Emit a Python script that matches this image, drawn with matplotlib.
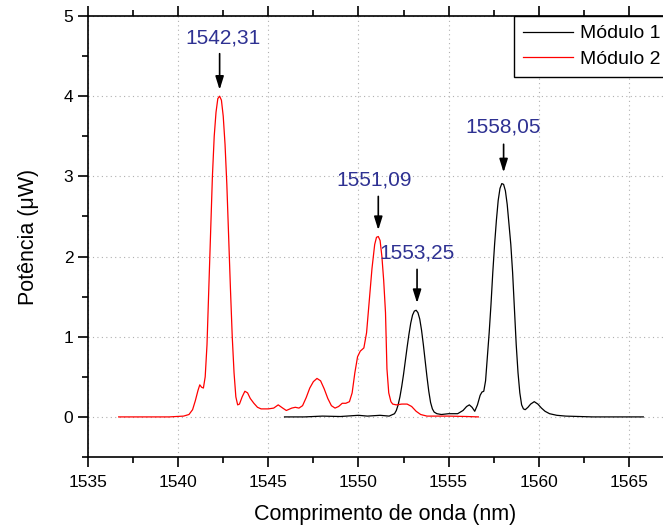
import matplotlib.pyplot as plt
from matplotlib.ticker import MultipleLocator

plt.rcParams['font.family'] = ['Liberation Sans', 'DejaVu Sans']

# Módulo 1 (black)
wl_m1 = [1545.9, 1547.0, 1548.0, 1549.0, 1550.0, 1550.5, 1551.2, 1551.7, 1552.0,
         1552.1, 1552.2, 1552.3, 1552.4, 1552.5, 1552.6, 1552.7, 1552.8, 1552.9,
         1553.0, 1553.1, 1553.2, 1553.3, 1553.4, 1553.5, 1553.6, 1553.7, 1553.8,
         1553.9, 1554.0, 1554.1, 1554.2, 1554.35, 1554.6, 1555.0, 1555.5, 1555.8,
         1556.0, 1556.15, 1556.3, 1556.45, 1556.6, 1556.75, 1556.85, 1556.95, 1557.05,
         1557.15, 1557.25, 1557.35, 1557.45, 1557.55, 1557.65, 1557.75, 1557.85, 1557.95,
         1558.05, 1558.15, 1558.25, 1558.35, 1558.45, 1558.55, 1558.65, 1558.75, 1558.85,
         1558.95, 1559.05, 1559.15, 1559.25, 1559.4, 1559.55, 1559.75, 1559.95, 1560.15,
         1560.35, 1560.6, 1561.0, 1561.5, 1563.0, 1565.8]
pw_m1 = [0.0, 0.0, 0.01, 0.005, 0.02, 0.01, 0.02, 0.01, 0.04,
         0.08, 0.15, 0.25, 0.38, 0.53, 0.7, 0.87, 1.03, 1.17,
         1.27, 1.32, 1.33, 1.3, 1.22, 1.08, 0.9, 0.7, 0.5,
         0.32, 0.18, 0.1, 0.06, 0.04, 0.03, 0.04, 0.04, 0.08,
         0.13, 0.15, 0.12, 0.07, 0.15, 0.27, 0.31, 0.32, 0.45,
         0.75, 1.05, 1.4, 1.8, 2.15, 2.45, 2.7, 2.85, 2.91,
         2.9, 2.82, 2.65, 2.4, 2.15, 1.8, 1.35, 0.9, 0.55,
         0.3, 0.15, 0.1, 0.09, 0.12, 0.16, 0.19, 0.16, 0.11,
         0.07, 0.04, 0.02, 0.01, 0.0, 0.0]

# Módulo 2 (red)
wl_m2 = [1536.7, 1538.0, 1539.5, 1540.3, 1540.6, 1540.8, 1540.95, 1541.1, 1541.2,
         1541.3, 1541.4, 1541.5, 1541.6, 1541.7, 1541.8, 1541.9, 1542.0, 1542.1,
         1542.2, 1542.3, 1542.4, 1542.5, 1542.6, 1542.7, 1542.8, 1542.9, 1543.0,
         1543.1, 1543.2, 1543.3, 1543.4, 1543.55, 1543.7, 1543.85, 1544.0, 1544.2,
         1544.4, 1544.6, 1545.0, 1545.3, 1545.55, 1545.8, 1546.0, 1546.3, 1546.5,
         1546.7, 1546.9, 1547.1, 1547.3, 1547.5, 1547.7, 1547.9, 1548.1, 1548.3,
         1548.5, 1548.7, 1548.9, 1549.1, 1549.3, 1549.5, 1549.65, 1549.8, 1549.95,
         1550.1, 1550.2, 1550.3, 1550.45, 1550.6, 1550.75, 1550.9, 1551.0, 1551.1,
         1551.2, 1551.3, 1551.4, 1551.5, 1551.58, 1551.68, 1551.8, 1551.9, 1552.1,
         1552.4, 1552.7, 1552.95, 1553.2, 1553.45, 1553.8, 1555.0, 1556.0, 1556.65]
pw_m2 = [0.0, 0.0, 0.0, 0.01, 0.03, 0.09, 0.2, 0.33, 0.4,
         0.37, 0.36, 0.5, 0.9, 1.6, 2.3, 3.0, 3.5, 3.8,
         3.97, 4.0, 3.95, 3.75, 3.4, 2.9, 2.25, 1.6, 1.0,
         0.55, 0.25, 0.15, 0.16, 0.25, 0.32, 0.3, 0.23, 0.17,
         0.12, 0.1, 0.1, 0.11, 0.15, 0.11, 0.08, 0.11, 0.12,
         0.11, 0.14, 0.24, 0.36, 0.44, 0.48, 0.45, 0.35, 0.23,
         0.14, 0.11, 0.13, 0.17, 0.17, 0.19, 0.3, 0.55, 0.75,
         0.82, 0.84, 0.86, 1.05, 1.45, 1.85, 2.15, 2.24, 2.25,
         2.2, 2.0, 1.7, 1.3, 0.6, 0.3, 0.19, 0.16, 0.15,
         0.16, 0.16, 0.13, 0.07, 0.03, 0.01, 0.01, 0.005, 0.0]

# peak labels: text, text position, arrow start, arrow tip
peak_labels = ['1542,31', '1551,09', '1553,25', '1558,05']
label_xy = [(1542.5, 4.73), (1550.86, 2.96), (1553.22, 2.05), (1558.02, 3.62)]
arrow_from = [(1542.3, 4.53), (1551.1, 2.75), (1553.25, 1.84), (1558.05, 3.40)]
arrow_to = [(1542.3, 4.08), (1551.1, 2.33), (1553.25, 1.42), (1558.05, 3.05)]

fig = plt.figure(figsize=(6.63, 5.27), dpi=100)
ax = fig.add_axes([88 / 663, 1 - 457 / 527, 595 / 663, (457 - 16) / 527])

ax.plot(wl_m1, pw_m1, color='black', linewidth=0.9, label='Módulo 1')
ax.plot(wl_m2, pw_m2, color='red', linewidth=0.9, label='Módulo 2')

blue = '#2e3192'
for txt, xy, a0, a1 in zip(peak_labels, label_xy, arrow_from, arrow_to):
    ax.text(xy[0], xy[1], txt, color=blue, fontsize=15, ha='center', va='center')
    ax.annotate('', xy=a1, xytext=a0,
                arrowprops=dict(arrowstyle='-|>,head_length=0.8,head_width=0.25',
                                color='black', lw=1.2, mutation_scale=10,
                                shrinkA=0, shrinkB=0))

ax.set_xlim(1535, 1568)
ax.set_ylim(-0.5, 5)
ax.xaxis.set_major_locator(MultipleLocator(5))
ax.xaxis.set_minor_locator(MultipleLocator(2.5))
ax.yaxis.set_major_locator(MultipleLocator(1))
ax.yaxis.set_minor_locator(MultipleLocator(0.5))
ax.tick_params(which='both', direction='out', top=True, width=1.2, labelsize=12.5)
ax.tick_params(which='major', length=7)
ax.tick_params(which='minor', length=4)
ax.tick_params(axis='x', pad=6)
for s in ax.spines.values():
    s.set_linewidth(1.2)

ax.grid(True, which='major', linestyle=(0, (1, 3)), color='#b0b0b0', linewidth=0.8)

ax.set_xlabel('Comprimento de onda (nm)', fontsize=15.5, labelpad=10)
ax.set_ylabel('Potência (μW)', fontsize=15.5, labelpad=18)

leg = ax.legend(loc='upper left', bbox_to_anchor=(514 / 663, 1 - 16 / 527),
                bbox_transform=fig.transFigure, borderaxespad=0, fontsize=14,
                fancybox=False, edgecolor='black', framealpha=1, handlelength=2.6,
                handletextpad=0.35, borderpad=0.45, labelspacing=0.4)
leg.get_frame().set_linewidth(1.0)

fig.savefig('out.png', dpi=100)
